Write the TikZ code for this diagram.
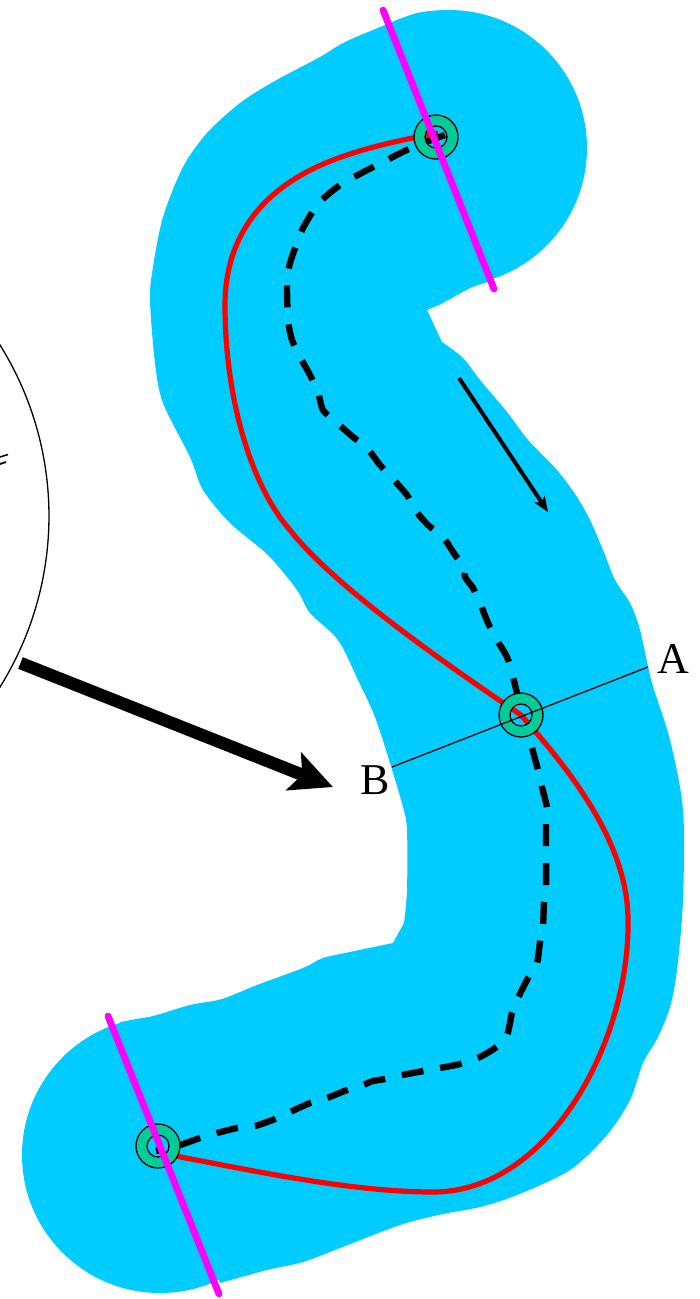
\documentclass[tikz,border=0pt]{standalone}
\usepackage{fontspec}
\setmainfont{Liberation Serif}
\usetikzlibrary{arrows.meta}
\definecolor{bandblue}{RGB}{0,204,255}
\definecolor{ringgreen}{RGB}{0,204,153}
\definecolor{redline}{RGB}{255,0,0}
\definecolor{magentaline}{RGB}{255,0,255}
\tikzset{
  band/.style={fill=bandblue,draw=none},
  redpath/.style={draw=redline,line width=5.2pt,line join=round},
  dashpath/.style={draw=black,line width=6.4pt,dash pattern=on 22pt off 17pt},
  endline/.style={draw=magentaline,line width=6.8pt,line cap=round},
  ring/.style={draw=black,line width=1.3pt,fill=ringgreen,even odd rule},
  thinline/.style={draw=black,line width=1.3pt},
  lab/.style={font=\fontsize{44}{44}\selectfont,inner sep=0pt}
}
\begin{document}
\begin{tikzpicture}[x=1pt,y=-1pt]
\useasboundingbox (0,0) rectangle (700,1299);
% blue band
\fill[band] (449,148) circle[radius=138];
\fill[band] (160,1155) circle[radius=138];
\fill[band]
 plot[smooth,tension=0.5] coordinates {
 (442,342) (463,358) (480,380) (507,412) (528,440) (557,470) (577,497) (590,520) (603,550)
 (615,580) (630,603) (640,630) (652,683) (670,740) (683,810) (683,900) (677,970) (670,1007)
 (658,1037) (643,1063) (630,1100) (607,1135) (570,1170) (517,1195) (480,1207)
 (443,1214) (400,1225) (340,1248) (303,1262) (267,1270) (220,1283)}
 -- plot[smooth,tension=0.5] coordinates {
 (120,1022) (153,1016) (190,1005) (222,999) (257,985) (303,968) (323,958) (350,952) (393,943)}
 -- plot[smooth,tension=0.5] coordinates {
 (404,923) (407,890) (407,830) (403,807) (390,763) (375,717) (358,680) (338,640)
 (310,613) (297,590) (268,555) (230,523) (203,490) (190,457) (163,403) (155,363)
 (150,300) (153,267) (163,217) (183,167) (207,133) (240,103) (273,82) (320,57) (343,43)
 (373,30) (417,13) (453,10)}
 -- plot[smooth,tension=0.4] coordinates {(488,282) (470,288) (443,303) (427,310)}
 -- cycle;
\coordinate (T) at (436,137);
\coordinate (M) at (521,715);
\coordinate (L) at (158,1146);
\coordinate (Tr) at (438,133);
\coordinate (Lr) at (165,1154);
\coordinate (Td) at (445,135);
\coordinate (Ld) at (156,1151);
\coordinate (A1) at (648,667);
\coordinate (B1) at (392,767);
\coordinate (E1a) at (383,10);
\coordinate (E1b) at (494,289);
\coordinate (E2a) at (108,1016);
\coordinate (E2b) at (219,1294);
% red
\draw[redpath] (Tr) .. controls (385,143) and (330,155) .. (290,182)
 .. controls (245,212) and (225,255) .. (225,305)
 .. controls (225,400) and (252,487) .. (290,530)
 .. controls (333,585) and (440,660) .. (M)
 .. controls (565,765) and (628,840) .. (628,920)
 .. controls (630,1040) and (550,1192) .. (433,1192)
 .. controls (350,1192) and (250,1170) .. (Lr);
% dashed
\draw[dashpath] plot[smooth,tension=0.4] coordinates {
 (Td) (413,147) (377,165) (343,183) (325,197) (315,208) (303,228) (297,243) (290,263) (287,282)
 (288,320) (292,340) (300,357) (310,375) (318,392) (323,410) (337,423) (353,437) (367,448)
 (380,465) (392,478) (407,495) (415,510) (428,525) (443,537) (455,555) (465,568) (465,577)
 (473,588) (480,603) (488,623) (497,640) (507,657) (512,673) (517,693) (522,712)};
\draw[dashpath] plot[smooth,tension=0.4] coordinates {
 (532,748) (538,770) (542,787) (547,808) (546,825) (546,887) (544,903) (543,925) (540,942)
 (537,963) (528,978) (518,998) (512,1013) (507,1035) (495,1048) (478,1058) (460,1064) (440,1068)
 (402,1075) (385,1079) (373,1081) (363,1085) (347,1090) (327,1098) (310,1103) (290,1112)
 (275,1119) (255,1126) (237,1128) (217,1133) (200,1138) (180,1145) (Ld)};
% rings
\foreach \c in {T,M,L}{
  \path[ring] (\c) circle[radius=22] (\c) circle[radius=11];
}
% section line
\draw[thinline] (B1) -- (A1);
% end lines
\draw[endline] (E1a) -- (E1b);
\draw[endline] (E2a) -- (E2b);
% labels
\node[lab] (la) at (673.5,658.5) {A};
\node[lab] (lb) at (375,780.5) {B};
% arrows
\coordinate (s1) at (459,378); \coordinate (s2) at (548,512);
\draw[black,line width=4pt,-{Stealth[length=15pt,width=12pt,inset=3pt]}] (s1) -- (s2);
\coordinate (b1) at (20.5,663); \coordinate (b2) at (333,787);
\draw[black,line width=12.5pt,-{Stealth[length=42pt,width=40pt,inset=9pt]}] (b1) -- (b2);
% lens arc
\draw[thinline] plot[domain=-33:33,samples=60] ({-274+323*cos(\x)},{516+323*sin(\x)});
\draw[black,line width=1.5pt] (0,457) -- (8,454.5);
\draw[black,line width=1.8pt] (0,464) -- (6,462);
\end{tikzpicture}
\end{document}
